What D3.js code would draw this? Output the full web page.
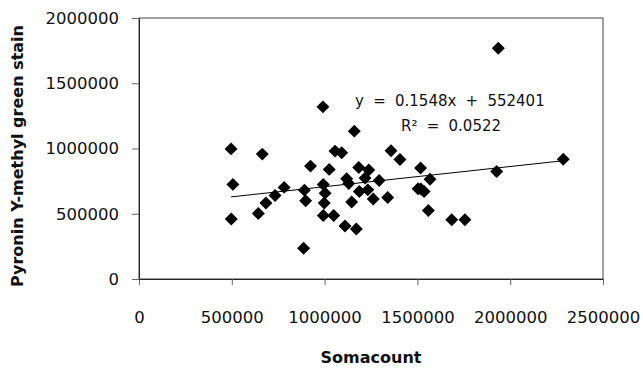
<!DOCTYPE html>
<html>
<head>
<meta charset="utf-8">
<script src="https://cdn.jsdelivr.net/npm/d3@7"></script>
<style>
  body { margin: 0; background: #fff; }
  svg text { font-family: "DejaVu Sans", Verdana, sans-serif; }
</style>
</head>
<body>
<svg width="643" height="372"></svg>
<script>
// somacount (x) vs pyronin Y-methyl green stain (y)
const somacount = [
    496000, 506000, 497000, 664000, 643000, 684000, 733000, 782000,
    891000, 898000, 887000, 924000, 991000, 993000, 1003000, 998000,
    993000, 1049000, 1025000, 1056000, 1092000, 1160000, 1110000, 1171000,
    1119000, 1130000, 1146000, 1184000, 1187000, 1218000, 1238000, 1233000,
    1262000, 1294000, 1340000, 1358000, 1406000, 1517000, 1504000, 1568000,
    1519000, 1536000, 1559000, 1685000, 1756000, 1927000, 2286000, 1936000
];
const stain = [
    997000, 725000, 459000, 957000, 502000, 582000, 640000, 702000,
    681000, 599000, 236000, 865000, 1319000, 724000, 658000, 582000,
    486000, 486000, 840000, 980000, 967000, 1133000, 406000, 383000,
    768000, 731000, 590000, 854000, 670000, 773000, 836000, 683000,
    613000, 754000, 624000, 983000, 915000, 850000, 691000, 765000,
    689000, 670000, 525000, 454000, 454000, 823000, 918000, 1768000
];

const xTicks = [0, 500000, 1000000, 1500000, 2000000, 2500000];
const yTicks = [0, 500000, 1000000, 1500000, 2000000];

// trendline as printed on the chart
const slope = 0.1548;
const intercept = 552401;
const rSquared = "0.0522";

const svg = d3.select("svg");
const margin = {left: 139, top: 18, right: 40, bottom: 93};
const width = +svg.attr("width") - margin.left - margin.right;
const height = +svg.attr("height") - margin.top - margin.bottom;

const x = d3.scaleLinear().domain([0, 2500000]).range([0, width]);
const y = d3.scaleLinear().domain([0, 2000000]).range([height, 0]);

const g = svg.append("g").attr("transform", `translate(${margin.left},${margin.top})`);

// plot frame
g.append("rect")
    .attr("x", 0).attr("y", 0)
    .attr("width", width).attr("height", height)
    .attr("fill", "none")
    .attr("stroke", "#444")
    .attr("stroke-width", 1);

const xAxis = g.append("g")
    .attr("transform", `translate(0,${height})`)
    .call(d3.axisBottom(x).tickValues(xTicks).tickFormat(d3.format("d"))
        .tickSize(6).tickPadding(26).tickSizeOuter(0));

const yAxis = g.append("g")
    .call(d3.axisLeft(y).tickValues(yTicks).tickFormat(d3.format("d"))
        .tickSize(7).tickPadding(13).tickSizeOuter(0));

[xAxis, yAxis].forEach(a => {
    a.select(".domain").attr("stroke", "#222");
    a.selectAll(".tick line").attr("stroke", "#666");
    a.selectAll("text")
        .attr("font-family", "DejaVu Sans, sans-serif")
        .attr("font-size", 16.5)
        .attr("fill", "#111");
});

// trendline over the x range of the data
const xr = d3.extent(somacount);
g.append("line")
    .attr("x1", x(xr[0])).attr("y1", y(slope * xr[0] + intercept))
    .attr("x2", x(xr[1])).attr("y2", y(slope * xr[1] + intercept))
    .attr("stroke", "#000")
    .attr("stroke-width", 1);

// diamond markers
const diamond = d3.symbol().type(d3.symbolSquare).size(84);
g.append("g")
    .selectAll("path")
    .data(d3.zip(somacount, stain))
    .enter()
    .append("path")
    .attr("d", diamond)
    .attr("transform", d => `translate(${x(d[0])},${y(d[1])}) rotate(45)`)
    .attr("fill", "#000");

// equation labels
svg.append("text")
    .attr("x", 355).attr("y", 105.5)
    .attr("font-size", 15)
    .attr("word-spacing", 4.5)
    .attr("fill", "#111")
    .text(`y = ${slope}x + ${intercept}`);

svg.append("text")
    .attr("x", 401).attr("y", 131)
    .attr("font-size", 15)
    .attr("word-spacing", 4.5)
    .attr("fill", "#111")
    .text(`R\u00B2 = ${rSquared}`);

// axis titles
svg.append("text")
    .attr("x", 371).attr("y", 363)
    .attr("text-anchor", "middle")
    .attr("font-size", 16)
    .attr("font-weight", "bold")
    .attr("fill", "#111")
    .text("Somacount");

svg.append("text")
    .attr("transform", "translate(23,156) rotate(-90)")
    .attr("text-anchor", "middle")
    .attr("font-size", 16)
    .attr("font-weight", "bold")
    .attr("fill", "#111")
    .text("Pyronin Y-methyl green stain");
</script>
</body>
</html>
